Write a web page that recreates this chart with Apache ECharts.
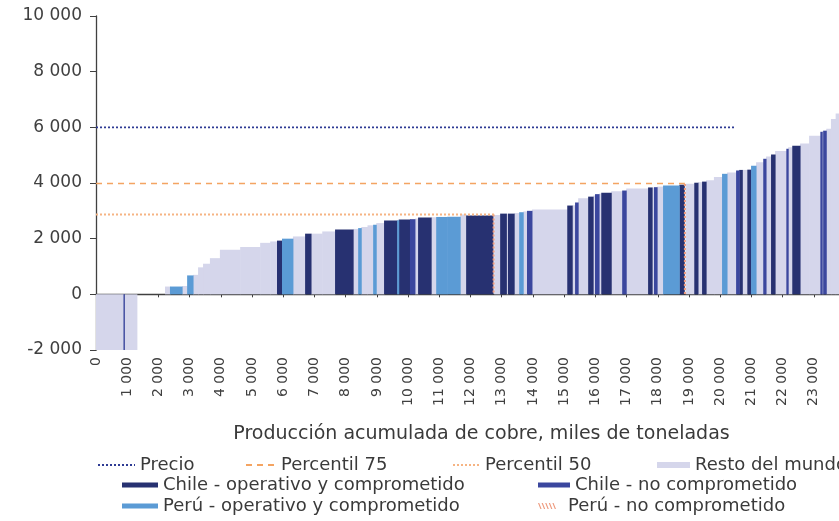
<!DOCTYPE html>
<html>
<head>
<meta charset="utf-8">
<script src="https://cdn.jsdelivr.net/npm/echarts@6/dist/echarts.min.js"></script>
<style>
  html, body { margin: 0; padding: 0; background: #fff; }
  #main { width: 839px; height: 521px; }
</style>
</head>
<body>
<div id="main"></div>
<script>
// curva de costos: cada mina = ancho (produccion, miles t) x alto (costo)
var produccion = [880, 30, 400, 900, 160, 390, 160, 190, 160, 160, 220, 320, 650, 640, 320, 220,
  160, 350, 390, 190, 360, 410, 580, 160, 100, 200, 180, 100, 250, 420, 50, 360, 160, 100, 420,
  160, 350, 420, 190, 860, 40, 190, 200, 50, 200, 160, 130, 120, 160, 1130, 160, 90, 100, 320,
  160, 60, 130, 70, 320, 350, 130, 700, 130, 60, 100, 190, 520, 160, 40, 280, 120, 130, 130, 250,
  260, 160, 290, 100, 100, 160, 120, 160, 230, 90, 160, 130, 360, 60, 130, 250, 290, 360, 60, 30,
  100, 150, 150, 300];
var costo = [-2000, -2000, -2000, 0, 280, 280, 300, 680, 700, 970, 1100, 1300, 1600, 1700, 1850, 1900,
  1930, 2000, 2080, 2180, 2180, 2260, 2330, 2350, 2380, 2420, 2480, 2500, 2560, 2650, 2660, 2690, 2700, 2720, 2760,
  2770, 2780, 2790, 2870, 2830, 2870, 2850, 2900, 2900, 2900, 2920, 2950, 2980, 3000, 3050, 3190, 3200, 3300, 3450,
  3510, 3550, 3600, 3620, 3650, 3700, 3730, 3800, 3840, 3840, 3850, 3870, 3910, 3940, 3960, 3970, 4010, 4030, 4050, 4100,
  4220, 4330, 4380, 4450, 4470, 4470, 4480, 4620, 4750, 4870, 4950, 5020, 5150, 5230, 5280, 5340, 5420, 5700, 5840, 5850,
  5880, 5950, 6300, 6500];
var grupo = ['R', 'CN', 'R', 'R', 'R', 'PO', 'R', 'PO', 'R', 'R', 'R', 'R', 'R', 'R', 'R', 'R',
  'CO', 'PO', 'R', 'CO', 'R', 'R', 'CO', 'R', 'PO', 'R', 'R', 'PO', 'R', 'CO', 'PO', 'CO', 'CN', 'R', 'CO',
  'R', 'PO', 'PO', 'R', 'CO', 'PN', 'R', 'CO', 'R', 'CO', 'R', 'PO', 'R', 'CN', 'R', 'CO', 'R', 'CN', 'R',
  'CO', 'R', 'CN', 'R', 'CO', 'R', 'CN', 'R', 'CO', 'R', 'CN', 'R', 'PO', 'CO', 'PN', 'R', 'CO', 'R', 'CO', 'R',
  'R', 'PO', 'R', 'CN', 'CO', 'R', 'CO', 'PO', 'R', 'CN', 'R', 'CO', 'R', 'CN', 'R', 'CO', 'R', 'R', 'CN', 'R',
  'CN', 'R', 'R', 'R'];

var grupos = ['R', 'CO', 'CN', 'PO', 'PN'];
var nombres = {
  R: 'Resto del mundo',
  CO: 'Chile - operativo y comprometido',
  CN: 'Chile - no comprometido',
  PO: 'Perú - operativo y comprometido',
  PN: 'Perú - no comprometido'
};
var colores = { R: '#d5d6eb', CO: '#273171', CN: '#3b479e', PO: '#5b9bd5', PN: '#ee9a7e' };

var precio = [[0, 6000], [20500, 6000]];
var percentil75 = [[0, 3980], [18870, 3980]];
var percentil50 = [[0, 2870], [12760, 2870]];

var ejeY = { min: -2000, max: 10000, paso: 2000 };
var ejeX = { min: 0, max: 24000, paso: 1000 };

function miles(v) {
  return String(v).replace(/\B(?=(\d{3})+(?!\d))/g, ' ');
}

// armar datos [inicio, fin, costo] por grupo
var datos = {};
grupos.forEach(function (g) { datos[g] = []; });
var acum = 0;
for (var i = 0; i < produccion.length; i++) {
  datos[grupo[i]].push([acum, acum + produccion[i], costo[i]]);
  acum += produccion[i];
}

function dibujar(params, api) {
  var a = api.coord([api.value(0), api.value(2)]);
  var b = api.coord([api.value(1), 0]);
  var cs = params.coordSys;
  if (params.seriesName === nombres.PN) {
    var xm = (a[0] + b[0]) / 2;
    return {
      type: 'line',
      shape: { x1: xm, y1: a[1], x2: xm, y2: b[1] },
      style: { stroke: api.visual('color'), lineWidth: 2, lineDash: [2, 2] }
    };
  }
  var r = echarts.graphic.clipRectByRect({
    x: a[0], y: Math.min(a[1], b[1]),
    width: b[0] - a[0] + 0.5, height: Math.abs(b[1] - a[1])
  }, { x: cs.x, y: cs.y, width: cs.width, height: cs.height });
  return r && { type: 'rect', shape: r, style: { fill: api.visual('color') } };
}

var series = grupos.map(function (g) {
  return {
    name: nombres[g],
    type: 'custom',
    renderItem: dibujar,
    itemStyle: { color: colores[g] },
    encode: { x: [0, 1], y: 2 },
    data: datos[g],
    z: g === 'R' ? 1 : 2
  };
});
series.push(
  { name: 'Precio', type: 'line', data: precio, symbol: 'none', showSymbol: false, z: 5,
    lineStyle: { color: '#2e3b94', width: 1.6, type: [2, 2] }, itemStyle: { color: '#2e3b94' } },
  { name: 'Percentil 75', type: 'line', data: percentil75, symbol: 'none', showSymbol: false, z: 5,
    lineStyle: { color: '#f4a462', width: 1.6, type: [6, 5] }, itemStyle: { color: '#f4a462' } },
  { name: 'Percentil 50', type: 'line', data: percentil50, symbol: 'none', showSymbol: false, z: 5,
    lineStyle: { color: '#f6b483', width: 2, type: [2, 2] }, itemStyle: { color: '#f6b483' } }
);

var tx = { color: '#3a3a3a', fontSize: 18, fontFamily: 'DejaVu Sans' };
function ley(nombre, x, y, w, h, icono, linea) {
  var d = { name: nombre };
  if (icono) d.icon = icono;
  var l = {
    data: [d], left: x, top: y, padding: 0, itemWidth: w, itemHeight: h,
    textStyle: tx, selectedMode: false
  };
  if (linea) l.itemStyle = { opacity: 0 };
  return l;
}
var rayado = 'path://M0,0L2,0L6,10L4,10Z M6,0L8,0L12,10L10,10Z M12,0L14,0L18,10L16,10Z M18,0L20,0L24,10L22,10Z M24,0L26,0L30,10L28,10Z';

var chart = echarts.init(document.getElementById('main'));
chart.setOption({
  animation: false,
  grid: { left: 96, top: 16, width: 749, height: 334, outerBoundsMode: 'none', containLabel: false },
  legend: [
    ley('Precio', 97, 456, 37, 14, null, true),
    ley('Percentil 75', 245, 456, 30, 14, null, true),
    ley('Percentil 50', 452, 456, 27, 14, null, true),
    ley(nombres.R, 657, 456, 33, 6, 'rect'),
    ley(nombres.CO, 122, 476, 36, 5, 'rect'),
    ley(nombres.CN, 538, 476, 32, 5, 'rect'),
    ley(nombres.PO, 122, 497, 36, 5, 'rect'),
    ley(nombres.PN, 538, 497, 32, 6, rayado)
  ],
  xAxis: [{
    type: 'value', min: ejeX.min, max: ejeX.max, interval: ejeX.paso,
    position: 'bottom',
    axisLine: { show: false, onZero: false },
    axisTick: { show: false },
    splitLine: { show: false },
    axisLabel: { rotate: 90, margin: 7, color: '#404040', fontSize: 14, fontFamily: 'DejaVu Sans', formatter: miles },
    name: 'Producción acumulada de cobre, miles de toneladas',
    nameLocation: 'middle', nameGap: 75,
    nameTextStyle: { color: '#3a3a3a', fontSize: 19, fontFamily: 'DejaVu Sans', padding: [0, 0, 0, 22] }
  }, {
    type: 'value', min: ejeX.min, max: ejeX.max, interval: ejeX.paso,
    position: 'bottom',
    axisLine: { show: true, onZero: true, lineStyle: { color: '#404040', width: 1.3 } },
    axisTick: { show: true, length: 3, lineStyle: { color: '#404040' } },
    axisLabel: { show: false },
    splitLine: { show: false }
  }],
  yAxis: {
    type: 'value', min: ejeY.min, max: ejeY.max, interval: ejeY.paso,
    axisLine: { show: true, lineStyle: { color: '#404040', width: 1.3 } },
    axisTick: { show: true, length: 6, lineStyle: { color: '#404040' } },
    splitLine: { show: false },
    axisLabel: { margin: 14, color: '#404040', fontSize: 17, fontFamily: 'DejaVu Sans', formatter: miles }
  },
  series: series
});
</script>
</body>
</html>
